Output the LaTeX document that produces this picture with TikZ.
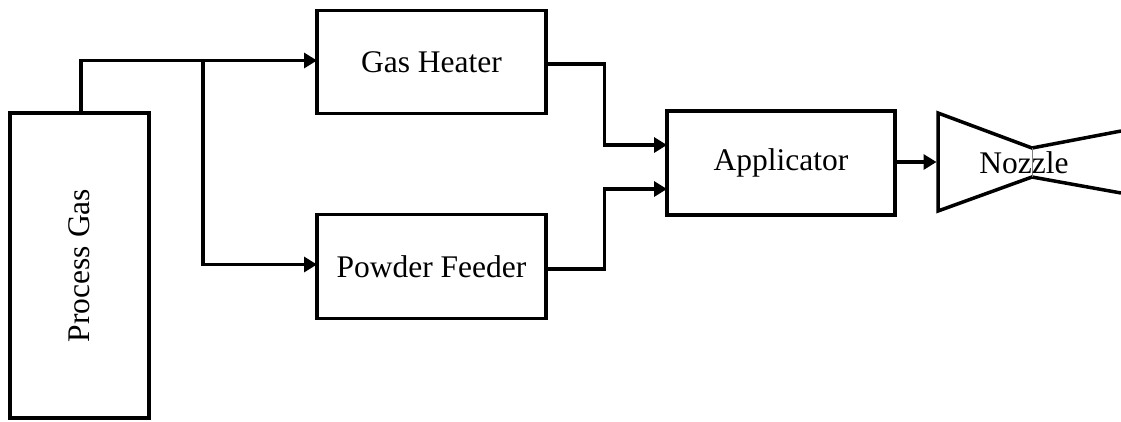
\documentclass[tikz,border=0pt]{standalone}
\usepackage{fontspec}
\setmainfont{Liberation Serif}
\usetikzlibrary{arrows.meta,calc}
\begin{document}
\begin{tikzpicture}[x=1bp,y=-1bp,
  blk/.style={draw,line width=3.5bp,inner sep=0,outer sep=0,font=\fontsize{31.5bp}{38bp}\selectfont},
  arr/.style={line width=3.5bp,-{Triangle[length=13bp,width=15bp]}},
  ln/.style={line width=3.5bp}]
\useasboundingbox (0,0) rectangle (1121,421);
\node[blk,minimum width=139bp,minimum height=305bp] (pg) at (79.5,265.5) {};
\node[font=\fontsize{31.5bp}{38bp}\selectfont,rotate=90] (pgt) at (79.5,265.5) {Process Gas};
\node[blk,minimum width=229bp,minimum height=103bp] (gh) at (431.5,62) {Gas Heater};
\node[blk,minimum width=229bp,minimum height=104bp] (pf) at (431.5,266.5) {Powder Feeder};
\node[blk,minimum width=228bp,minimum height=104bp] (ap) at (781,163) {Applicator};
% nozzle
\draw[ln,line join=miter] (1121,131) -- (1032,148) -- (938,113) -- (938,211) -- (1032,177) -- (1121,193);
\draw[line width=1bp,gray] (1032,148) -- (1032,177);
\node[font=\fontsize{31.5bp}{38bp}\selectfont] (nz) at (1024,163) {Nozzle};
\coordinate (nzl) at (936.5,162);
\coordinate (pgtop) at (81,113);
\coordinate (br) at (203,60);
% connectors
\draw[arr] (pgtop) |- ([yshift=1.5bp]gh.west);
\draw[arr] (br) |- ([yshift=2bp]pf.west);
\draw[arr] ([yshift=-2bp]gh.east) -| ($(gh.east)!0.5!(ap.west)+(-2,0)$) |- ([yshift=18bp]ap.west);
\draw[arr] ([yshift=-2.5bp]pf.east) -| ($(pf.east)!0.5!(ap.west)+(-2,0)$) |- ([yshift=-26bp]ap.west);
\draw[arr] (ap.east |- nzl) -- (nzl);
\end{tikzpicture}
\end{document}
